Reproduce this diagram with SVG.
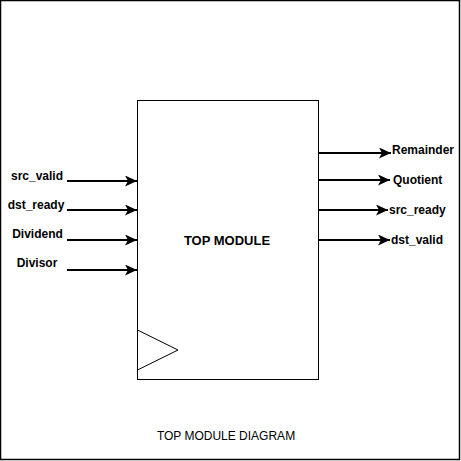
<svg xmlns="http://www.w3.org/2000/svg" width="461" height="461" viewBox="0 0 461 461">
<style>
.lbl{font-family:"Liberation Sans",Arial,sans-serif;font-size:12px;font-weight:bold;fill:#000}
.big{font-family:"Liberation Sans",Arial,sans-serif;font-size:13px;font-weight:bold;fill:#000}
.title{font-family:"Liberation Sans",Arial,sans-serif;font-size:12px;fill:#000}
.wire{stroke:#000;stroke-width:2;fill:none}
</style>
<defs>
<marker id="arr" markerUnits="userSpaceOnUse" markerWidth="13" markerHeight="11" refX="12" refY="5.5" orient="auto">
<path d="M0,0 L12,5.5 L0,11 L3,5.5 Z" fill="#000"/>
</marker>
</defs>
<rect x="0.5" y="0.5" width="459" height="459" fill="#fff" stroke="#000" stroke-width="1.5"/>
<g id="top-module">
<rect x="137.5" y="100.5" width="181" height="279" fill="#fff" stroke="#000" stroke-width="1"/>
<polyline points="137.5,330 178,350 137.5,370" fill="none" stroke="#000" stroke-width="1"/>
<text class="big" x="227" y="245" text-anchor="middle">TOP MODULE</text>
</g>
<g id="connectors">
<line class="wire" x1="67" y1="181" x2="137" y2="181" marker-end="url(#arr)"/>
<line class="wire" x1="67" y1="210" x2="137" y2="210" marker-end="url(#arr)"/>
<line class="wire" x1="67" y1="240" x2="137" y2="240" marker-end="url(#arr)"/>
<line class="wire" x1="67" y1="270" x2="137" y2="270" marker-end="url(#arr)"/>
<line class="wire" x1="319" y1="153" x2="391" y2="153" marker-end="url(#arr)"/>
<line class="wire" x1="319" y1="180" x2="390" y2="180" marker-end="url(#arr)"/>
<line class="wire" x1="319" y1="210" x2="388" y2="210" marker-end="url(#arr)"/>
<line class="wire" x1="319" y1="240" x2="390" y2="240" marker-end="url(#arr)"/>
</g>
<g id="inputs">
<text class="lbl" x="37" y="180" text-anchor="middle">src_valid</text>
<text class="lbl" x="36" y="209" text-anchor="middle">dst_ready</text>
<text class="lbl" x="37.5" y="238" text-anchor="middle">Dividend</text>
<text class="lbl" x="37" y="267" text-anchor="middle">Divisor</text>
</g>
<g id="outputs">
<text class="lbl" x="392" y="154">Remainder</text>
<text class="lbl" x="393" y="184">Quotient</text>
<text class="lbl" x="389" y="214">src_ready</text>
<text class="lbl" x="391" y="244">dst_valid</text>
</g>
<text class="title" x="226" y="440" text-anchor="middle">TOP MODULE DIAGRAM</text>
</svg>
